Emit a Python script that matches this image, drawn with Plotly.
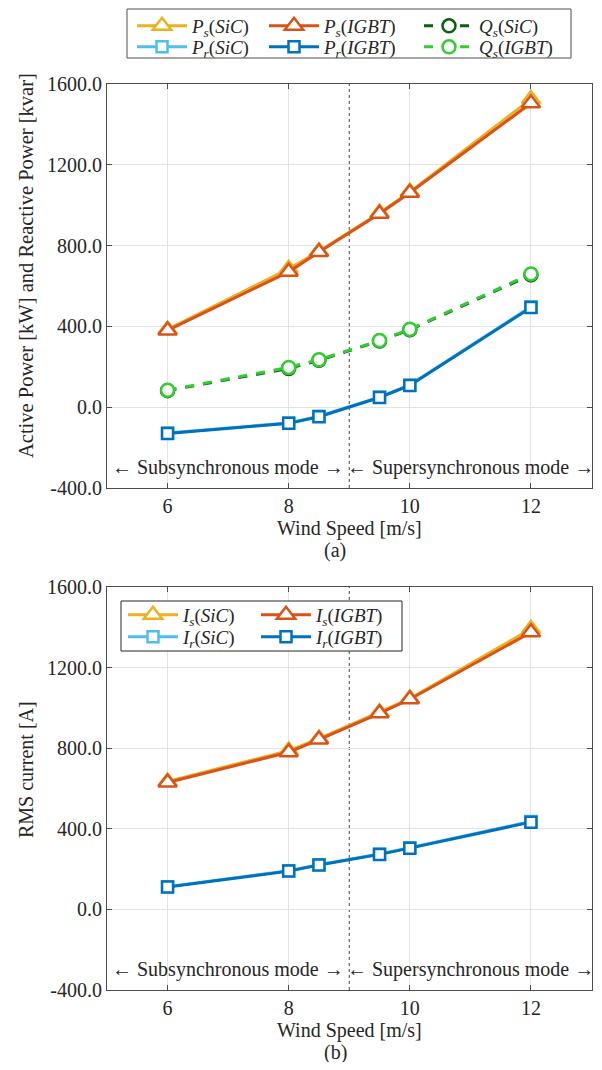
import plotly.graph_objects as go

wind = [6, 8, 8.5, 9.5, 10, 12]
Ps_SiC = [385, 685, 772, 963, 1066, 1525]
Ps_IGBT = [380, 670, 768, 958, 1062, 1505]
Pr_SiC = [-128, -78, -45, 50, 110, 497]
Pr_IGBT = [-130, -80, -47, 48, 108, 493]
Qs_SiC = [82, 192, 232, 328, 383, 655]
Qs_IGBT = [84, 197, 235, 330, 386, 660]
Is_SiC = [635, 788, 848, 978, 1046, 1392]
Is_IGBT = [630, 780, 843, 973, 1043, 1375]
Ir_SiC = [113, 192, 222, 275, 306, 436]
Ir_IGBT = [111, 190, 220, 273, 304, 433]

x_ticks = [6, 8, 10, 12]
y_ticks = [-400, 0, 400, 800, 1200, 1600]
y_ticktext = ["-400.0", "0.0", "400.0", "800.0", "1200.0", "1600.0"]

C_YEL = "#EDB120"
C_ORG = "#D95319"
C_LBL = "#4DBEEE"
C_BLU = "#0072BD"
C_DGR = "#0B5E0B"
C_LGR = "#33CC33"

# page has an 8px body margin; size the figure so it fits the 602x1070 window
OFF = 8
W, H = 602 - 2 * OFF, 1070 - 2 * OFF
FONT = "Liberation Serif"
TXT = "#262626"

def px(x):
    return (x - OFF) / W

def py(y):
    return 1 - (y - OFF) / H

fig = go.Figure()

def add(x, y, name, color, symbol, msize, xa, ya, legend, dash="solid"):
    fig.add_trace(go.Scatter(
        x=x, y=y, name=name, mode="lines+markers", showlegend=True,
        line=dict(color=color, width=3, dash=dash),
        marker=dict(symbol=symbol, size=msize, color="white",
                    line=dict(color=color, width=2.5)),
        xaxis=xa, yaxis=ya, legend=legend))

def lab(sym, sub, dev):
    return f"<i>{sym}<sub>{sub}</sub></i>(<i>{dev}</i>)"

# Top panel
add(wind, Ps_SiC, lab("P", "s", "SiC"), C_YEL, "triangle-up", 16, "x", "y", "legend")
add(wind, Pr_SiC, lab("P", "r", "SiC"), C_LBL, "square", 11, "x", "y", "legend4")
add(wind, Qs_SiC, lab("Q", "s", "SiC"), C_DGR, "circle", 13, "x", "y", "legend3", dash="dash")
add(wind, Ps_IGBT, lab("P", "s", "IGBT"), C_ORG, "triangle-up", 16, "x", "y", "legend2")
add(wind, Pr_IGBT, lab("P", "r", "IGBT"), C_BLU, "square", 11, "x", "y", "legend5")
add(wind, Qs_IGBT, lab("Q", "s", "IGBT"), C_LGR, "circle", 13, "x", "y", "legend6", dash="dash")

# Bottom panel
add(wind, Is_SiC, lab("I", "s", "SiC"), C_YEL, "triangle-up", 16, "x2", "y2", "legend7")
add(wind, Ir_SiC, lab("I", "r", "SiC"), C_LBL, "square", 11, "x2", "y2", "legend9")
add(wind, Is_IGBT, lab("I", "s", "IGBT"), C_ORG, "triangle-up", 16, "x2", "y2", "legend8")
add(wind, Ir_IGBT, lab("I", "r", "IGBT"), C_BLU, "square", 11, "x2", "y2", "legend10")

xdom = [px(107), px(591.5)]
top_dom = [py(488), py(84)]
bot_dom = [py(990), py(587)]

axis_common = dict(
    showgrid=True, gridcolor="#E3E3E3", gridwidth=1,
    showline=True, linecolor="#4D4D4D", linewidth=1, mirror="ticks",
    ticks="inside", ticklen=5, tickcolor="#4D4D4D",
    tickfont=dict(family=FONT, size=20, color=TXT),
    zeroline=False, automargin=False,
)

fig.update_layout(
    width=W, height=H, showlegend=True,
    margin=dict(l=0, r=0, t=0, b=0, autoexpand=False),
    paper_bgcolor="white", plot_bgcolor="white",
    font=dict(family=FONT, size=19, color=TXT),
    xaxis=dict(domain=xdom, range=[5, 13], tickvals=x_ticks, anchor="y", **axis_common),
    yaxis=dict(domain=top_dom, range=[-400, 1600], tickvals=y_ticks, ticktext=y_ticktext, anchor="x", **axis_common),
    xaxis2=dict(domain=xdom, range=[5, 13], tickvals=x_ticks, anchor="y2", **axis_common),
    yaxis2=dict(domain=bot_dom, range=[-400, 1600], tickvals=y_ticks, ticktext=y_ticktext, anchor="x2", **axis_common),
)

leg_common = dict(
    orientation="v", xanchor="left", yanchor="top", bgcolor="rgba(0,0,0,0)",
    borderwidth=0, itemwidth=50, tracegroupgap=0,
    font=dict(family=FONT, size=19, color=TXT), itemclick=False,
)
R1, R2 = 7, 28
B1, B2 = 596, 618
fig.update_layout(
    legend=dict(x=px(132), y=py(R1), **leg_common),
    legend2=dict(x=px(264), y=py(R1), **leg_common),
    legend3=dict(x=px(419), y=py(R1), **leg_common),
    legend4=dict(x=px(132), y=py(R2), **leg_common),
    legend5=dict(x=px(264), y=py(R2), **leg_common),
    legend6=dict(x=px(419), y=py(R2), **leg_common),
    legend7=dict(x=px(123), y=py(B1), **leg_common),
    legend8=dict(x=px(256), y=py(B1), **leg_common),
    legend9=dict(x=px(123), y=py(B2), **leg_common),
    legend10=dict(x=px(256), y=py(B2), **leg_common),
)

shapes = [
    dict(type="rect", xref="paper", yref="paper", x0=px(127), x1=px(571), y0=py(58), y1=py(9),
         line=dict(color="#4D4D4D", width=1), fillcolor="white", layer="below"),
    dict(type="rect", xref="paper", yref="paper", x0=px(121), x1=px(402), y0=py(651), y1=py(601),
         line=dict(color="#262626", width=1), fillcolor="white", layer="above"),
    dict(type="line", xref="x", yref="y domain", x0=9, x1=9, y0=0, y1=1,
         line=dict(color="#444444", width=1, dash="3px,3px"), layer="below"),
    dict(type="line", xref="x2", yref="y2 domain", x0=9, x1=9, y0=0, y1=1,
         line=dict(color="#444444", width=1, dash="3px,3px"), layer="below"),
]
fig.update_layout(shapes=shapes)

ann = []
for xa, ya in (("x", "y"), ("x2", "y2")):
    ann.append(dict(x=7, y=-300, xref=xa, yref=ya, text="← Subsynchronous mode →",
                    showarrow=False, font=dict(family=FONT, size=20, color=TXT)))
    ann.append(dict(x=11, y=-300, xref=xa, yref=ya, text="← Supersynchronous mode →",
                    showarrow=False, font=dict(family=FONT, size=20, color=TXT)))

def txt(x, y, t, angle=0, size=20):
    ann.append(dict(x=px(x), y=py(y), xref="paper", yref="paper", text=t, textangle=angle,
                    showarrow=False, xanchor="center", yanchor="middle",
                    font=dict(family=FONT, size=size, color=TXT)))

txt(349, 528, "Wind Speed [m/s]")
txt(335, 550, "(a)")
txt(349, 1030, "Wind Speed [m/s]")
txt(335, 1052, "(b)")
txt(26, 266, "Active Power [kW] and Reactive Power [kvar]", angle=-90, size=20.5)
txt(26, 770, "RMS current [A]", angle=-90)
fig.update_layout(annotations=ann)

fig.write_html("out.html")
